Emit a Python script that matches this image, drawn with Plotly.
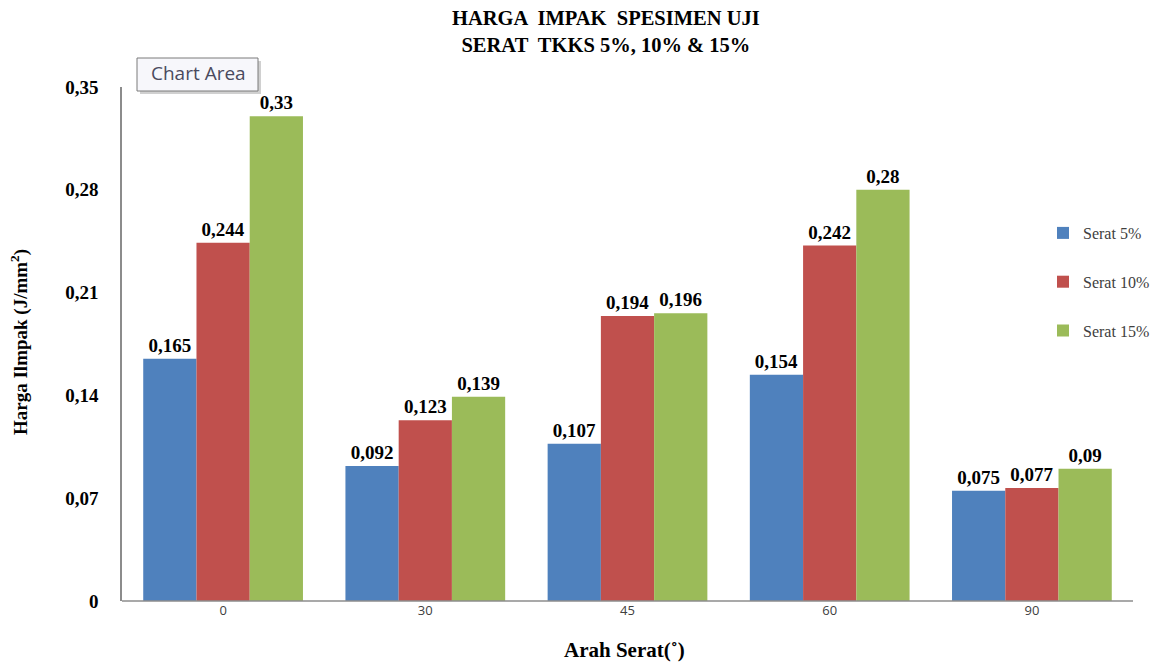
import plotly.graph_objects as go

categories = ["0", "30", "45", "60", "90"]
serat5 = [0.165, 0.092, 0.107, 0.154, 0.075]
serat10 = [0.244, 0.123, 0.194, 0.242, 0.077]
serat15 = [0.33, 0.139, 0.196, 0.28, 0.09]
series_names = ["Serat 5%", "Serat 10%", "Serat 15%"]
colors = ["#4F81BD", "#C0504D", "#9BBB59"]
ytick_vals = [0, 0.07, 0.14, 0.21, 0.28, 0.35]
ytick_text = ["0", "0,07", "0,14", "0,21", "0,28", "0,35"]

def fmt(v):
    s = ("%.3f" % v).rstrip("0").rstrip(".")
    return s.replace(".", ",")

serif = "Liberation Serif, Times New Roman, serif"

# layout geometry (pixels)
W, H = 1155, 662
L, R, T, B = 122, 0, 87, 61
PW = W - L - R
PH = H - T - B
axis_end_px = 1133          # where the visible x-axis line ends
cat_w = (axis_end_px - L) / len(categories)
x_range_max = len(categories) - 0.5 + (W - R - axis_end_px) / cat_w

def px(xp):
    return (xp - L) / PW

def py(yp):
    return (H - B - yp) / PH

fig = go.Figure()
for i, (name, vals) in enumerate(zip(series_names, [serat5, serat10, serat15])):
    fig.add_trace(go.Bar(
        x=categories, y=vals, name=name, marker_color=colors[i],
        marker_line_width=0,
        text=[fmt(v) for v in vals], textposition="outside",
        textfont=dict(family=serif, size=19, color="#000000", weight="bold"),
        cliponaxis=False, legendgroup=name,
    ))

fig.update_layout(
    width=W, height=H,
    margin=dict(l=L, r=R, t=T, b=B),
    paper_bgcolor="white", plot_bgcolor="white",
    barmode="group", bargap=0.21, bargroupgap=0,
    uniformtext=dict(mode=False),
    showlegend=True,
    legend=dict(
        xref="paper", yref="paper",
        x=1.0, xanchor="right", y=py(216), yanchor="top",
        font=dict(family=serif, size=16, color="#404040"),
        tracegroupgap=25, itemwidth=30, bgcolor="rgba(0,0,0,0)",
    ),
    xaxis=dict(
        range=[-0.5, x_range_max],
        showline=False, ticks="", showgrid=False, zeroline=False,
        tickfont=dict(family="Open Sans, sans-serif", size=13, color="#404040"),
    ),
    yaxis=dict(
        range=[0, 0.35], showline=True, linecolor="#8C8C8C", linewidth=1.5,
        ticks="", showgrid=False, zeroline=False,
        tickvals=ytick_vals, ticktext=ytick_text, ticklabelstandoff=18,
        tickfont=dict(family=serif, size=19, color="#000000", weight="bold"),
    ),
    annotations=[
        dict(text="<b>HARGA  IMPAK  SPESIMEN UJI<br>SERAT  TKKS 5%, 10% &amp; 15%</b>",
             xref="paper", yref="paper", x=px(606), y=py(31.5),
             xanchor="center", yanchor="middle", showarrow=False,
             font=dict(family=serif, size=20.5, color="#000000")),
        dict(text="<b>Arah Serat(˚)</b>", xref="paper", yref="paper",
             x=px(624), y=py(650), xanchor="center", yanchor="middle",
             showarrow=False, font=dict(family=serif, size=21, color="#000000")),
        dict(text="<b>Harga Ilmpak (J/mm<sup>2</sup>)</b>", xref="paper", yref="paper",
             x=px(19), y=py(342), xanchor="center", yanchor="middle", textangle=-90,
             showarrow=False, font=dict(family=serif, size=19, color="#000000")),
        dict(text="Chart Area", xref="paper", yref="paper",
             x=px(198), y=py(73), xanchor="center", yanchor="middle",
             showarrow=False, font=dict(family="Open Sans, sans-serif", size=19, color="#4A4A5E")),
    ],
    shapes=[
        dict(type="line", xref="paper", yref="paper",
             x0=0, x1=px(axis_end_px), y0=0, y1=0,
             line=dict(color="#8C8C8C", width=1.5), layer="above"),
        dict(type="rect", xref="paper", yref="paper",
             x0=px(140), x1=px(261), y0=py(94), y1=py(61),
             fillcolor="#D0D0D0", line=dict(width=0), layer="above"),
        dict(type="rect", xref="paper", yref="paper",
             x0=px(137), x1=px(258), y0=py(91), y1=py(58),
             fillcolor="#F7F7FB", line=dict(color="#7A7A7A", width=1), layer="above"),
    ],
)
fig.write_html("out.html")
